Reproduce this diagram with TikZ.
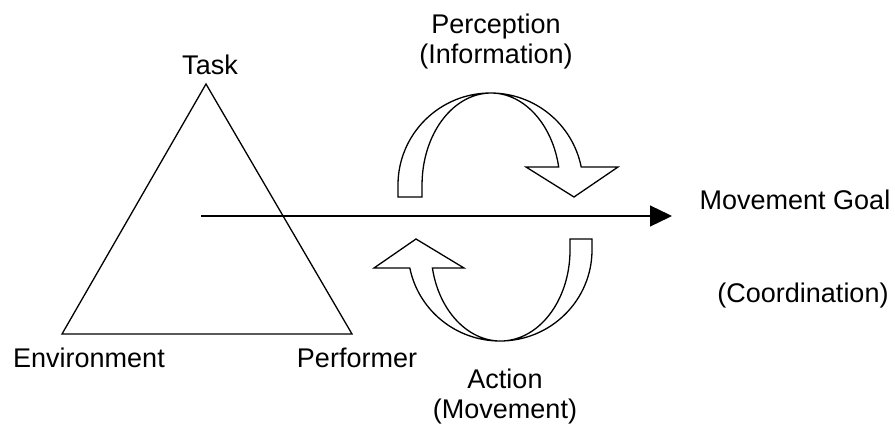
\documentclass[tikz,border=0pt]{standalone}
\usepackage{fontspec}
\setmainfont{Liberation Sans}
\usetikzlibrary{arrows.meta}
\begin{document}
\begin{tikzpicture}[x=0.5pt,y=-0.5pt]
\tikzstyle{lbl}=[inner sep=0pt, font=\fontsize{13.5}{15}\selectfont, align=center];
\tikzstyle{line}=[line width=0.65pt, line join=miter];
\tikzstyle{block}=[line, fill=white];
\useasboundingbox (0,0) rectangle (895,428);
% triangle
\coordinate (top) at (206,84);
\coordinate (left) at (62,334);
\coordinate (right) at (352,334);
\draw [line] (top) -- (left) -- (right) -- cycle;
\node [lbl, anchor=base] (task) at (210,75) {Task};
\node [lbl, anchor=base] (env) at (89,367) {Environment};
\node [lbl, anchor=base] (perf) at (357,367) {Performer};
% goal arrow
\coordinate (start) at (201,216);
\coordinate (end) at (672,216);
\draw [line, -{Triangle[length=11pt,width=10.5pt]}] (start) -- (end);
\node [lbl, anchor=base] (goal) at (795,209) {Movement Goal};
\node [lbl, anchor=base] (coord) at (803,302) {(Coordination)};
% perception loop
\draw [block] (398,197) -- (398,185) arc [start angle=180, end angle=348.7, x radius=92.5, y radius=92] -- (618,167) -- (574,197) -- (526,167) -- (558.7,167) arc [start angle=348.7, end angle=180, x radius=69, y radius=92] -- (422,197) -- cycle;
\node [lbl, anchor=base] (perc) at (496,63) {Perception\\(Information)};
% action loop
\draw [block] (592,239) -- (592,250) arc [start angle=0, end angle=168.6, x radius=92, y radius=91] -- (374,268) -- (416,239) -- (464,268) -- (432.4,268) arc [start angle=168.6, end angle=0, x radius=69.5, y radius=91] -- (570,239) -- cycle;
\node [lbl, anchor=base] (act) at (505,418) {Action\\(Movement)};
\end{tikzpicture}
\end{document}
